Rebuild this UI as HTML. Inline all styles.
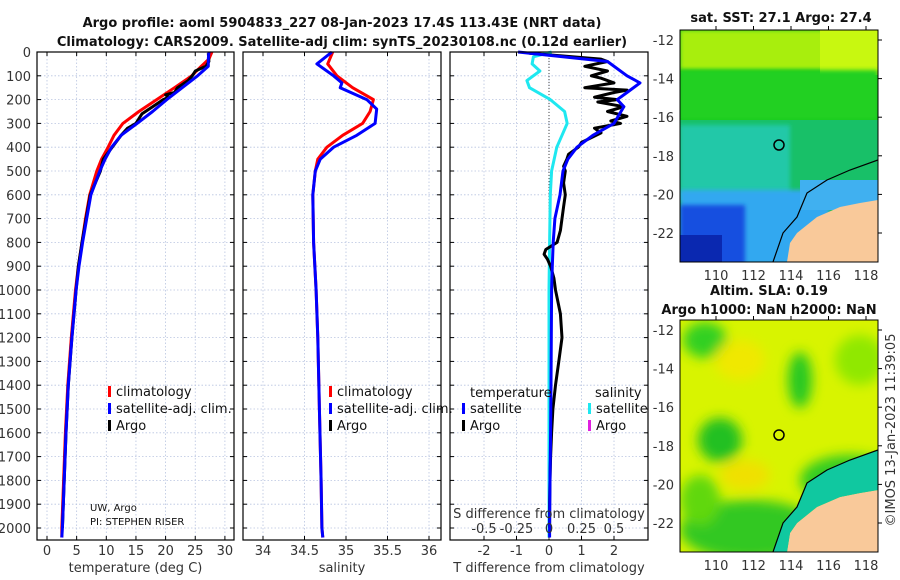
<!DOCTYPE html>
<html><head><meta charset="utf-8"><style>
body{margin:0;background:#fff;}
svg{display:block;font-family:"DejaVu Sans","Liberation Sans",sans-serif;}
.tk{font-size:13px;fill:#333;}
.ttl{font-size:13px;font-weight:bold;fill:#111;}
.lg{font-size:13px;fill:#111;}
</style></head><body>
<svg id="fig" width="900" height="580" viewBox="0 0 900 580" xmlns="http://www.w3.org/2000/svg">
<defs>
<filter id="blur6" x="-20%" y="-20%" width="140%" height="140%"><feGaussianBlur stdDeviation="6"/></filter>
<filter id="blur3"><feGaussianBlur stdDeviation="2"/></filter>
<clipPath id="cm1"><rect x="680" y="30" width="198" height="232"/></clipPath>
<clipPath id="cm2"><rect x="680" y="320" width="198" height="232"/></clipPath>
</defs>
<text class="ttl" x="342" y="27" text-anchor="middle">Argo profile: aoml 5904833_227 08-Jan-2023 17.4S 113.43E (NRT data)</text>
<text class="ttl" x="342" y="46" text-anchor="middle">Climatology: CARS2009. Satellite-adj clim: synTS_20230108.nc (0.12d earlier)</text>
<g id="panels"></g>
<g id="maps">
 <text class="ttl" x="781" y="22" text-anchor="middle">sat. SST: 27.1 Argo: 27.4</text>
 <g clip-path="url(#cm1)">
  <rect x="680" y="30" width="198" height="232" fill="#12c81a"/>
  <rect x="680" y="30" width="198" height="40" fill="#a8ee10" filter="url(#blur3)"/>
  <rect x="820" y="30" width="60" height="45" fill="#c8f810"/>
  <rect x="680" y="70" width="198" height="50" fill="#22d020" filter="url(#blur3)"/>
  <rect x="680" y="120" width="198" height="80" fill="#18c068"/>
  <rect x="680" y="125" width="110" height="75" fill="#20c8a8" filter="url(#blur3)"/>
  <rect x="680" y="190" width="150" height="75" fill="#30a8f0" filter="url(#blur3)"/>
  <rect x="800" y="180" width="80" height="30" fill="#40b0f0"/>
  <rect x="680" y="205" width="65" height="60" fill="#1850e0" filter="url(#blur3)"/>
  <rect x="680" y="235" width="42" height="30" fill="#0a28b0"/>
  <polygon points="878,200 860,203 840,207 817,217 797,233 790,243 787,262 878,262" fill="#f9c99a"/>
  <polyline points="878,160 850,170 827,180 807,193 797,217 783,233 773,262" fill="none" stroke="#000" stroke-width="1.2"/>
  <circle cx="779" cy="145" r="5" fill="none" stroke="#000" stroke-width="1.5"/>
 </g>
 <rect x="680" y="30" width="198" height="232" fill="none" stroke="#000"/>
 <text class="ttl" x="769" y="295" text-anchor="middle">Altim. SLA: 0.19</text>
 <text class="ttl" x="769" y="314" text-anchor="middle">Argo h1000: NaN h2000: NaN</text>
 <g clip-path="url(#cm2)">
  <rect x="680" y="320" width="198" height="232" fill="#d8f400"/>
  <g filter="url(#blur6)">
   <ellipse cx="705" cy="340" rx="22" ry="18" fill="#30d020"/>
   <ellipse cx="800" cy="380" rx="12" ry="28" fill="#28c820"/>
   <ellipse cx="720" cy="440" rx="22" ry="22" fill="#20c020"/>
   <ellipse cx="860" cy="360" rx="25" ry="25" fill="#90e800"/>
   <ellipse cx="750" cy="530" rx="70" ry="30" fill="#30c820"/>
   <ellipse cx="700" cy="500" rx="20" ry="25" fill="#60d810"/>
   <ellipse cx="850" cy="480" rx="50" ry="25" fill="#30cc20"/>
   <ellipse cx="740" cy="360" rx="25" ry="20" fill="#f0e800"/>
   <ellipse cx="745" cy="475" rx="25" ry="15" fill="#f0e000"/>
  </g>
  <polygon points="878,490 860,493 840,497 817,507 797,523 790,533 787,552 878,552" fill="#f9c99a"/>
  <polygon points="878,450 850,460 827,470 807,483 797,507 783,523 773,552 787,552 790,533 797,523 817,507 840,497 860,493 878,490" fill="#10c8a0"/>
  <polyline points="878,450 850,460 827,470 807,483 797,507 783,523 773,552" fill="none" stroke="#000" stroke-width="1.2"/>
  <circle cx="779" cy="435" r="5" fill="none" stroke="#000" stroke-width="1.5"/>
 </g>
 <rect x="680" y="320" width="198" height="232" fill="none" stroke="#000"/>
 <text class="tk" transform="translate(895,430) rotate(-90)" text-anchor="middle">©IMOS 13-Jan-2023 11:39:05</text>
</g>
</svg>
<script>
// ---- data ----
const depthTicks=[0,100,200,300,400,500,600,700,800,900,1000,1100,1200,1300,1400,1500,1600,1700,1800,1900,2000];
const tempTicks=[0,5,10,15,20,25,30];
const salTicks=[34,34.5,35,35.5,36];
const tdiffTicks=[-2,-1,0,1,2];
const sdiffTicks=[-0.5,-0.25,0,0.25,0.5];
const sdiffTickLabels=["-0.5","-0.25","0","0.25","0.5"];
const mapLonTicks=[110,112,114,116,118];
const mapLatTicks=[-12,-14,-16,-18,-20,-22];

const climTDepth=[0,30,60,100,150,200,250,300,350,400,450,500,600,700,800,900,1000,1200,1400,1600,1800,2000,2040];
const climTVal=[27.8,27.3,26.0,24.4,21.5,18.5,15.5,12.8,11.3,10.3,9.2,8.4,7.2,6.5,5.9,5.3,4.8,4.1,3.5,3.1,2.8,2.5,2.5];
const satTDepth=[0,30,60,100,150,200,250,300,350,400,450,500,600,700,800,900,1000,1200,1400,1600,1800,2000,2040];
const satTVal=[27.3,27.2,27.2,25.4,22.8,20.2,17.8,15.2,12.5,10.9,9.8,8.9,7.4,6.7,6.0,5.4,4.9,4.2,3.6,3.2,2.9,2.6,2.5];
const argoTDepth=[5,40,60,80,100,120,150,170,180,190,200,230,260,300,320,350,400,450,500,600,700,800,900,1000,1200,1400,1600,1800,2000];
const argoTVal=[27.2,27.3,26.8,25.0,24.5,23.8,22.0,21.5,20.0,20.5,19.6,17.8,16.0,15.0,13.6,12.5,11.0,9.5,9.0,7.3,6.6,5.9,5.3,4.9,4.2,3.6,3.2,2.9,2.6];

const climSDepth=[0,50,100,150,200,250,300,350,400,450,500,600,800,1000,1200,1500,1800,2000,2040];
const climSVal=[34.84,34.78,34.89,35.08,35.33,35.29,35.2,34.96,34.77,34.66,34.63,34.6,34.61,34.64,34.66,34.68,34.7,34.71,34.72];
const satSDepth=[0,50,100,130,150,200,240,300,350,400,450,500,600,800,1000,1200,1500,1800,2000,2040];
const satSVal=[34.83,34.65,34.85,34.95,34.93,35.25,35.37,35.35,35.13,34.85,34.69,34.63,34.6,34.61,34.64,34.66,34.68,34.7,34.71,34.72];

const satTdDepth=[0,40,100,130,170,200,230,300,350,400,450,500,600,700,800,900,1000,1200,1400,1600,1800,2000,2040];
const satTdVal=[-0.95,1.8,2.4,2.8,2.4,2.1,2.3,2.0,1.35,0.86,0.58,0.43,0.34,0.18,0.13,0.1,0.08,0.07,0.06,0.05,0.03,0.02,0.02];
const argoTdDepth=[5,30,40,60,80,100,110,130,150,160,170,190,200,210,230,250,270,290,300,320,340,360,380,400,430,450,480,500,550,600,650,700,750,800,830,850,870,900,950,1000,1100,1200,1300,1400,1500,1600,1700,1800,1900,2000];
const argoTdVal=[-0.6,1.6,1.8,1.1,1.8,1.3,1.6,2.0,1.1,2.4,2.0,1.4,2.1,1.5,2.3,1.8,2.4,1.9,2.2,1.4,1.6,1.3,1.0,0.9,0.6,0.55,0.45,0.5,0.45,0.5,0.45,0.4,0.35,0.25,-0.1,-0.15,-0.05,0.05,0.15,0.2,0.35,0.4,0.3,0.2,0.12,0.08,0.05,0.03,0.02,0.02];
const satSdDepth=[0,20,50,80,120,150,200,250,300,350,400,500,600,800,1000,1500,2000,2040];
const satSdVal=[0.02,-0.12,-0.13,-0.07,-0.17,-0.15,0.01,0.12,0.14,0.1,0.06,0.02,0.01,0.005,0,0,0,0];

// ---- axes ----
const Y0=52, YS=0.238;
const yD=d=>Y0+d*YS;
const P1={x0:37,x1:234}, P2={x0:243,x1:441}, P3={x0:450,x1:648};
const PT=52, PB=540;
const xT=v=>47+v*5.93;
const xS=v=>263+(v-34)*83;
const xTd=v=>549+v*32.5;
const xSd=v=>549+v*130;

const NS="http://www.w3.org/2000/svg";
const root=document.getElementById('panels');
function mk(tag,attrs,parent){const e=document.createElementNS(NS,tag);for(const k in attrs)e.setAttribute(k,attrs[k]);(parent||root).appendChild(e);return e;}
function txt(s,attrs,parent){const e=mk('text',attrs,parent);e.textContent=s;return e;}

function panel(P,name,xTicks,xf,xlabels,axisTitle){
  const g=mk('g',{});
  
  
  depthTicks.forEach(d=>{
    const l=mk('line',{x1:P.x0,x2:P.x1,y1:yD(d),y2:yD(d),stroke:'#b8c4e0','stroke-width':0.8,'stroke-dasharray':'1.5,2'},g);
    
    
    mk('line',{x1:P.x0,x2:P.x0+4,y1:yD(d),y2:yD(d),stroke:'#000'},g);
    mk('line',{x1:P.x1-4,x2:P.x1,y1:yD(d),y2:yD(d),stroke:'#000'},g);
  });
  xTicks.forEach((v,i)=>{
    const x=xf(v);
    const l=mk('line',{x1:x,x2:x,y1:PT,y2:PB,stroke:'#b8c4e0','stroke-width':0.8,'stroke-dasharray':'1.5,2'},g);
    
    
    mk('line',{x1:x,x2:x,y1:PB-4,y2:PB,stroke:'#000'},g);
    mk('line',{x1:x,x2:x,y1:PT,y2:PT+4,stroke:'#000'},g);
    const t=txt(xlabels[i],{x:x,y:555,'text-anchor':'middle',class:'tk'},g);
    
    
  });
  const at=txt(axisTitle,{x:(P.x0+P.x1)/2,y:572,'text-anchor':'middle',class:'tk'},g);
  
  
  return g;
}
function frame(P,g){mk('rect',{x:P.x0,y:PT,width:P.x1-P.x0,height:PB-PT,fill:'none',stroke:'#000','stroke-width':1.2},g);}
function line(depths,vals,xf,color,w,name,g){
  const pts=depths.map((d,i)=>xf(vals[i]).toFixed(1)+','+yD(d).toFixed(1)).join(' ');
  const p=mk('polyline',{points:pts,fill:'none',stroke:color,'stroke-width':w,'stroke-linejoin':'round'},g);
  
  
}
function legendEntry(x,y,color,label,g){
  mk('rect',{x:x,y:y-9,width:3,height:11,fill:color},g);
  const t=txt(label,{x:x+8,y:y+1,class:'lg'},g);
  
  
}

depthTicks.forEach(d=>{
  const t=txt(String(d),{x:31,y:yD(d)+5,'text-anchor':'end',class:'tk'});
  
  
});

const g1=panel(P1,'temperature-panel',tempTicks,xT,tempTicks.map(String),'temperature (deg C)');
line(climTDepth,climTVal,xT,'#f00',3,'temp-climatology-line',g1);
line(argoTDepth,argoTVal,xT,'#000',3,'temp-argo-line',g1);
line(satTDepth,satTVal,xT,'#00f',3,'temp-satellite-line',g1);
frame(P1,g1);
legendEntry(108,395,'#f00','climatology',g1);
legendEntry(108,412,'#00f','satellite-adj. clim.',g1);
legendEntry(108,429,'#000','Argo',g1);
txt('UW, Argo',{x:90,y:511,'font-size':10,fill:'#111'},g1);
txt('PI: STEPHEN RISER',{x:90,y:525,'font-size':10,fill:'#111'},g1);

const g2=panel(P2,'salinity-panel',salTicks,xS,salTicks.map(String),'salinity');
line(climSDepth,climSVal,xS,'#f00',3,'sal-climatology-line',g2);
line(satSDepth,satSVal,xS,'#00f',3,'sal-satellite-line',g2);
frame(P2,g2);
legendEntry(329,395,'#f00','climatology',g2);
legendEntry(329,412,'#00f','satellite-adj. clim.',g2);
legendEntry(329,429,'#000','Argo',g2);

const g3=panel(P3,'difference-panel',tdiffTicks,xTd,tdiffTicks.map(String),'T difference from climatology');
mk('line',{x1:xTd(0),x2:xTd(0),y1:PT,y2:PB,stroke:'#444','stroke-width':1,'stroke-dasharray':'1,2'},g3);
line(satSdDepth,satSdVal,xSd,'#1ee8f0',3,'sal-diff-satellite-line',g3);
line(argoTdDepth,argoTdVal,xTd,'#000',3,'temp-diff-argo-line',g3);
line(satTdDepth,satTdVal,xTd,'#00f',3,'temp-diff-satellite-line',g3);
frame(P3,g3);
sdiffTicks.forEach((v,i)=>{
  const t=txt(sdiffTickLabels[i],{x:xSd(v),y:533,'text-anchor':'middle',class:'tk'},g3);
  
  
});
txt('S difference from climatology',{x:549,y:518,'text-anchor':'middle',class:'tk'},g3);
txt('temperature',{x:470,y:397,class:'lg'},g3);
txt('salinity',{x:595,y:397,class:'lg'},g3);
legendEntry(462,412,'#00f','satellite',g3);
legendEntry(462,429,'#000','Argo',g3);
legendEntry(588,412,'#1ee8f0','satellite',g3);
legendEntry(588,429,'#e020e0','Argo',g3);

const mg=document.getElementById('maps');
[[30,262],[320,552]].forEach(([top,bot],m)=>{
  mapLatTicks.forEach(lat=>{
    const y=top+10+(-12-lat)*19.3;
    txt(String(lat),{x:674,y:y+5,'text-anchor':'end',class:'tk'},mg);
    mk('line',{x1:878,x2:882,y1:y,y2:y,stroke:'#000'},mg);
  });
  mapLonTicks.forEach(lon=>{
    const x=716+(lon-110)*18.75;
    txt(String(lon),{x:x,y:bot+18,'text-anchor':'middle',class:'tk'},mg);
    mk('line',{x1:x,x2:x,y1:top-4,y2:top,stroke:'#000'},mg);
  });
});
</script>
</body></html>
